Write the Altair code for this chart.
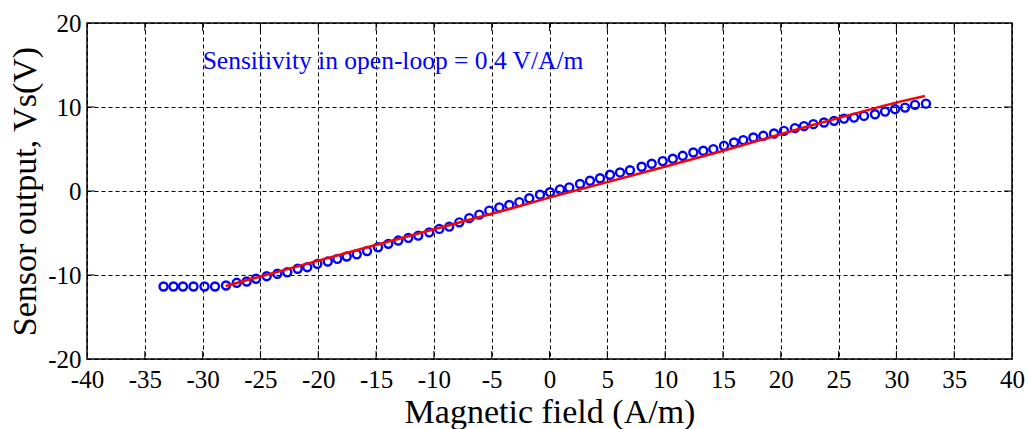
import altair as alt
import pandas as pd

# Measured points (blue circles)
field_x = [-33.38, -32.52, -31.70, -30.79, -29.84, -28.93,
           -27.98, -27.05, -26.19, -25.38, -24.46, -23.54, -22.68, -21.78, -20.95, -20.08,
           -19.18, -18.35, -17.54, -16.67, -15.78, -14.83, -13.94, -13.08, -12.21, -11.35,
           -10.40, -9.53, -8.67, -7.80, -6.94, -6.07, -5.21, -4.34, -3.48, -2.61,
           -1.75, -0.82, 0.04, 0.91, 1.71, 2.64, 3.50, 4.37, 5.23, 6.10,
           6.96, 7.97, 8.84, 9.79, 10.66, 11.52, 12.44, 13.30, 14.17, 15.09,
           15.96, 16.76, 17.63, 18.49, 19.42, 20.28, 21.23, 22.01, 22.82, 23.74,
           24.61, 25.47, 26.34, 27.20, 28.15, 29.02, 29.88, 30.75, 31.61, 32.56]
sensor_v = [-11.37, -11.37, -11.37, -11.37, -11.37, -11.37,
            -11.25, -10.93, -10.77, -10.45, -10.14, -9.86, -9.67, -9.26, -9.07, -8.67,
            -8.40, -8.08, -7.80, -7.53, -7.15, -6.70, -6.29, -5.90, -5.58, -5.31,
            -4.92, -4.51, -4.24, -3.73, -3.23, -2.81, -2.34, -1.95, -1.66, -1.33,
            -0.86, -0.44, -0.14, 0.19, 0.43, 0.83, 1.22, 1.52, 1.94, 2.21,
            2.47, 2.89, 3.24, 3.56, 3.84, 4.19, 4.58, 4.79, 4.99, 5.38,
            5.77, 6.06, 6.37, 6.57, 6.84, 7.16, 7.48, 7.72, 7.96, 8.15,
            8.35, 8.62, 8.74, 8.94, 9.14, 9.45, 9.74, 9.93, 10.25, 10.40]

# Fitted line (red)
fit_x = [-28.0, -16.48, -3.48, 0.04, 9.56, 15.03, 22.53, 25.12, 28.87, 30.31, 32.47]
fit_v = [-11.3, -6.97, -2.14, -0.76, 2.73, 4.79, 7.76, 8.74, 10.13, 10.64, 11.32]

x_ticks = [-40, -35, -30, -25, -20, -15, -10, -5, 0, 5, 10, 15, 20, 25, 30, 35, 40]
y_ticks = [-20, -10, 0, 10, 20]
inner_x_ticks = [-35, -30, -25, -20, -15, -10, -5, 0, 5, 10, 15, 20, 25, 30, 35]
inner_y_ticks = [-10, 0, 10]

note_text = ["Sensitivity in open-loop = 0.4 V/A/m"]
note_x = [-30.0]
note_y = [15.5]

W, H = 925, 336
FONT = "Liberation Serif"

pts = pd.DataFrame({"x": field_x, "y": sensor_v})
fit = pd.DataFrame({"x": fit_x, "y": fit_v})
note = pd.DataFrame({"x": note_x, "y": note_y, "t": note_text})
xt = pd.DataFrame({"x": inner_x_ticks})
yt = pd.DataFrame({"y": inner_y_ticks})

xscale = alt.Scale(domain=[-40, 40], nice=False, zero=False)
yscale = alt.Scale(domain=[-20, 20], nice=False, zero=False)

xaxis = alt.Axis(values=x_ticks, title="Magnetic field (A/m)", labelPadding=8, titlePadding=3,
                 labelExpr="'' + datum.value")
yaxis = alt.Axis(values=y_ticks, title="Sensor output,  Vs(V)", labelPadding=6, titlePadding=5,
                 labelExpr="'' + datum.value")

X = alt.X("x:Q", scale=xscale, axis=xaxis)
Y = alt.Y("y:Q", scale=yscale, axis=yaxis)

points = alt.Chart(pts).mark_point(
    shape="circle", filled=False, color="#0000ff", size=64, strokeWidth=2.4, opacity=1
).encode(x=X, y=Y)

line = alt.Chart(fit).mark_line(color="#ff0000", strokeWidth=2.5).encode(x=X, y=Y)

text = alt.Chart(note).mark_text(
    align="left", baseline="middle", font=FONT, fontSize=25.5, color="#0000ff"
).encode(x=X, y=Y, text="t:N")

tb = alt.Chart(xt).mark_rule(color="black", strokeWidth=1).encode(
    x=X, y=alt.value(H), y2=alt.value(H - 8))
tt = alt.Chart(xt).mark_rule(color="black", strokeWidth=1).encode(
    x=X, y=alt.value(0), y2=alt.value(8))
tl = alt.Chart(yt).mark_rule(color="black", strokeWidth=1).encode(
    y=Y, x=alt.value(0), x2=alt.value(8))
tr = alt.Chart(yt).mark_rule(color="black", strokeWidth=1).encode(
    y=Y, x=alt.value(W), x2=alt.value(W - 8))

chart = alt.layer(points, line, text, tb, tt, tl, tr).properties(
    width=W, height=H,
    autosize=alt.AutoSizeParams(type="none"),
    padding={"left": 87, "top": 23, "right": 16, "bottom": 70},
    background="white",
).configure_view(stroke="black", strokeWidth=1.5).configure_axis(
    grid=True, gridColor="black", gridDash=[4, 3], gridWidth=1, gridOpacity=1,
    domain=False, ticks=False, labelFont=FONT, labelFontSize=25,
    labelColor="black", titleFont=FONT, titleFontSize=34, titleFontWeight="normal",
    titleColor="black", labelFlush=False, labelOverlap=False
)

chart.save("out.html", embed_options={"renderer": "svg", "actions": False})
